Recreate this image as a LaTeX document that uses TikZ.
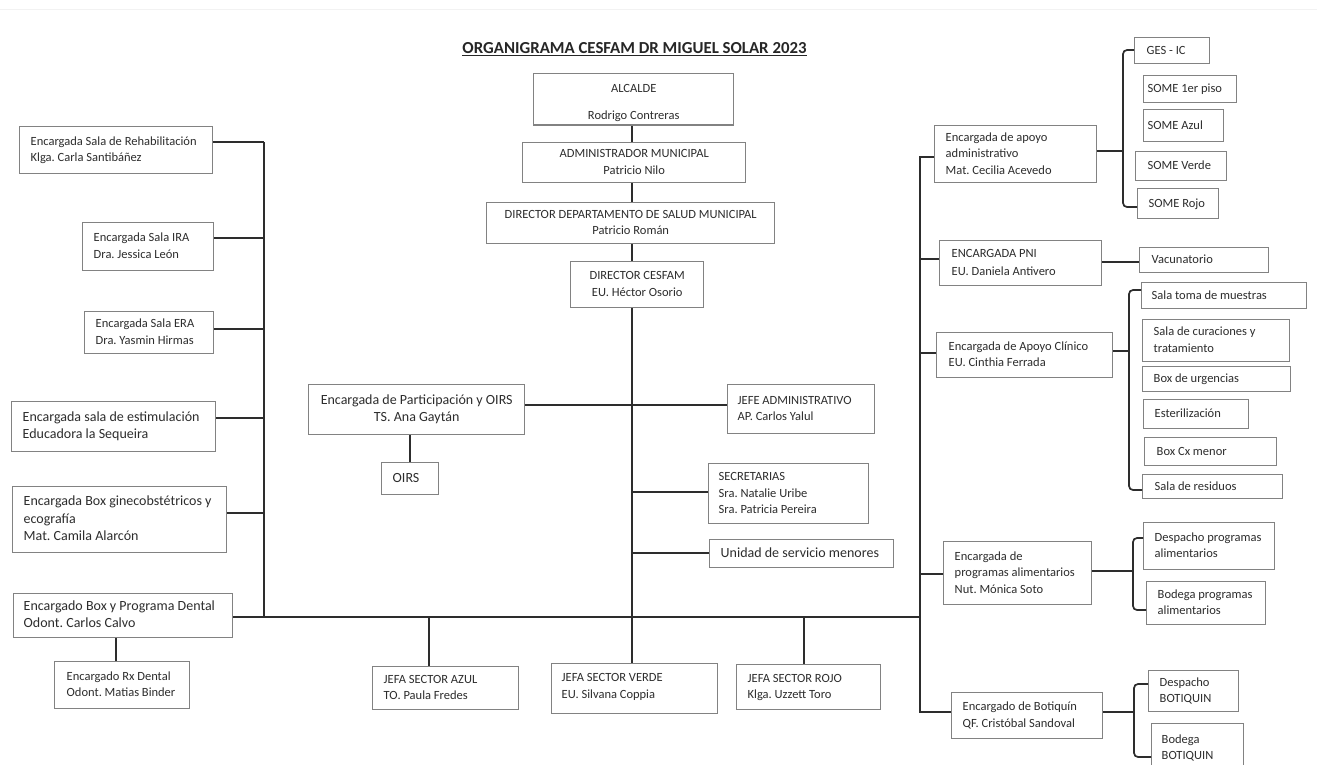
\documentclass[tikz,border=0pt]{standalone}
\usepackage{fontspec}
\setmainfont{Carlito}
\usetikzlibrary{calc}
\definecolor{boxline}{RGB}{130,130,130}
\definecolor{connline}{RGB}{45,45,45}
\definecolor{txt}{RGB}{45,45,45}
\newcommand{\orgbox}[9]{% name, style, align (l/c), pad, x1, y1, x2, y2, text
  \pgfmathsetmacro{\orgW}{#7-#5}%
  \pgfmathsetmacro{\orgH}{#8-#6}%
  \pgfmathsetmacro{\orgT}{#7-#5-2*#4}%
  \node[#2, inner xsep=#4pt, anchor=north west, minimum width=\orgW pt, minimum height=\orgH pt] (#1) at (#5,#6)
    {\makebox[\orgT pt][#3]{\begin{tabular}{@{}#3@{}}#9\end{tabular}}};}
\tikzset{
  obox/.style={draw=boxline, line width=1.4pt, fill=white, inner ysep=1pt, text=txt, font=\fontsize{12.5}{16.5}\selectfont},
  obig/.style={obox, font=\fontsize{14}{17.5}\selectfont},
  conn/.style={draw=connline, line width=1.7pt},
}
\begin{document}
\frenchspacing
\begin{tikzpicture}[x=1pt,y=-1pt]
\fill[white] (0,0) rectangle (1317,764);
\useasboundingbox (0,0) rectangle (1317,764);
\draw[black!5, line width=1pt] (0,9) -- (1317,9);

\node[anchor=base, text=black!85, font=\fontsize{16.8}{20}\selectfont\bfseries] (title) at (634.5,53.5) {\underline{ORGANIGRAMA CESFAM DR MIGUEL SOLAR 2023}};

% centre column
\orgbox{alc}{obox}{c}{11}{533}{73}{733}{124}{\rule{0pt}{18pt}ALCALDE\\[10pt]Rodrigo Contreras}
\orgbox{adm}{obox}{c}{11}{522}{142}{745}{182}{ADMINISTRADOR MUNICIPAL\\Patricio Nilo}
\orgbox{dsm}{obox}{c}{11}{486}{202}{774}{243}{DIRECTOR DEPARTAMENTO DE SALUD MUNICIPAL\\Patricio Román}
\orgbox{dcf}{obox}{c}{11}{570}{261}{703}{307}{DIRECTOR CESFAM\\EU. Héctor Osorio}
\orgbox{part}{obig}{c}{11}{308}{384}{524}{434}{Encargada de Participación y OIRS\\TS. Ana Gaytán}
\orgbox{oirs}{obig}{l}{11}{381}{462}{438}{494}{OIRS}
\orgbox{jadm}{obox}{l}{10}{727}{384}{874}{433}{JEFE ADMINISTRATIVO\\AP. Carlos Yalul}
\orgbox{sec}{obox}{l}{10}{708}{463}{868}{523}{SECRETARIAS\\Sra. Natalie Uribe\\Sra. Patricia Pereira}
\orgbox{usm}{obig}{l}{11}{709}{539}{893}{567}{Unidad de servicio menores}
\orgbox{azul}{obox}{l}{11}{372}{666}{518}{709}{JEFA SECTOR AZUL\\TO. Paula Fredes}
\orgbox{verde}{obox}{l}{10}{551}{663}{717}{713}{JEFA SECTOR VERDE\\EU. Silvana Coppia\\[4pt]}
\orgbox{rojo}{obox}{l}{11}{736}{664}{880}{709}{JEFA SECTOR ROJO\\Klga. Uzzett Toro}

% left column
\orgbox{rehab}{obox}{l}{11}{19}{126}{212}{173}{Encargada Sala de Rehabilitación\\Klga. Carla Santibáñez}
\orgbox{ira}{obox}{l}{11}{82}{222}{213}{270}{Encargada Sala IRA\\Dra. Jessica León}
\orgbox{era}{obox}{l}{11}{84}{311}{213}{353}{Encargada Sala ERA\\Dra. Yasmin Hirmas}
\orgbox{estim}{obig}{l}{11}{11}{401}{215}{451}{Encargada sala de estimulación\\Educadora la Sequeira}
\orgbox{gine}{obig}{l}{11}{12}{486}{226}{552}{Encargada Box ginecobstétricos y\\ecografía\\Mat. Camila Alarcón}
\orgbox{dent}{obig}{l}{10}{13}{593}{232}{637}{Encargado Box y Programa Dental\\Odont. Carlos Calvo}
\orgbox{rx}{obox}{l}{12}{54}{661}{189}{708}{Encargado Rx Dental\\Odont. Matias Binder}

% right column
\orgbox{aad}{obox}{l}{11}{934}{125}{1096}{182}{Encargada de apoyo\\administrativo\\Mat. Cecilia Acevedo}
\orgbox{ges}{obox}{l}{12}{1134}{37}{1209}{63}{GES - IC}
\orgbox{sa}{obox}{l}{4}{1143}{75}{1236}{102}{SOME 1er piso}
\orgbox{saz}{obox}{l}{4}{1143}{109}{1223}{141}{SOME Azul}
\orgbox{sve}{obox}{l}{12}{1135}{151}{1226}{180}{SOME Verde}
\orgbox{sro}{obox}{l}{11}{1137}{188}{1218}{218}{SOME Rojo}
\orgbox{pni}{obox}{l}{12}{939}{240}{1101}{285}{ENCARGADA PNI\\[2pt]EU. Daniela Antivero}
\orgbox{vac}{obox}{l}{12}{1139}{247}{1268}{272}{Vacunatorio}
\orgbox{acl}{obox}{l}{12}{936}{332}{1112}{377}{Encargada de Apoyo Clínico\\EU. Cinthia Ferrada}
\orgbox{stm}{obox}{l}{10}{1141}{282}{1306}{308}{Sala toma de muestras}
\orgbox{scur}{obox}{l}{11}{1142}{319}{1289}{361}{Sala de curaciones y\\tratamiento}
\orgbox{burg}{obox}{l}{11}{1142}{366}{1290}{391}{Box de urgencias}
\orgbox{est}{obox}{l}{11}{1143}{399}{1248}{428}{Esterilización}
\orgbox{bcx}{obox}{l}{12}{1144}{437}{1276}{465}{Box Cx menor}
\orgbox{sres}{obox}{l}{12}{1142}{474}{1282}{498}{Sala de residuos}
\orgbox{alim}{obox}{l}{11}{943}{541}{1091}{604}{Encargada de\\programas alimentarios\\Nut. Mónica Soto}
\orgbox{dpa}{obox}{l}{11}{1143}{522}{1274}{569}{Despacho programas\\alimentarios}
\orgbox{bpa}{obox}{l}{11}{1146}{581}{1265}{624}{Bodega programas\\alimentarios}
\orgbox{bot}{obox}{l}{11}{951}{692}{1102}{738}{Encargado de Botiquín\\QF. Cristóbal Sandoval}
\orgbox{dbot}{obox}{l}{11}{1148}{670}{1238}{711}{Despacho\\BOTIQUIN}
\orgbox{bbot}{obox}{l}{10}{1151}{723}{1243}{772}{Bodega\\BOTIQUIN}

% junction coordinates
\coordinate (jRehab) at (264,142);
\coordinate (jIra) at (264,238);
\coordinate (jEra) at (264,329);
\coordinate (jEst) at (264,418);
\coordinate (jGin) at (264,513);
\coordinate (jDent) at (264,617);
\coordinate (jR) at (920,617);
\coordinate (cx) at (632,0);
\coordinate (jPart) at (632,405);
\coordinate (jSec) at (632,492);
\coordinate (jUsm) at (632,553);
\coordinate (xO) at (410,0);
\coordinate (xRx) at (116,0);
\coordinate (xAz) at (429,617);
\coordinate (xRo) at (804,617);
\coordinate (rTop) at (920,157);
\coordinate (rBot) at (920,712);
\coordinate (jPni) at (920,259);
\coordinate (jAcl) at (920,353);
\coordinate (jAli) at (920,574);
\coordinate (jVac) at (1101,262);
\coordinate (b1) at (1123,151);
\coordinate (b1t) at (1123,50);
\coordinate (b1b) at (1123,207);
\coordinate (b2) at (1129,351);
\coordinate (b2t) at (1129,290);
\coordinate (b2b) at (1129,490);
\coordinate (b3) at (1133,571);
\coordinate (b3t) at (1133,538);
\coordinate (b3b) at (1133,610);
\coordinate (b4) at (1134,712);
\coordinate (b4t) at (1134,684);
\coordinate (b4b) at (1134,757);

% left trunk
\draw[conn] (jRehab) -- (jDent);
\draw[conn] (rehab.east |- jRehab) -- (jRehab);
\draw[conn] (ira.east |- jIra) -- (jIra);
\draw[conn] (era.east |- jEra) -- (jEra);
\draw[conn] (estim.east |- jEst) -- (jEst);
\draw[conn] (gine.east |- jGin) -- (jGin);
\draw[conn] (dent.east |- jDent) -- (jR);
\draw[conn] (xRx |- dent.south) -- (xRx |- rx.north);

% centre
\draw[conn] (cx |- alc.south) -- (cx |- adm.north);
\draw[conn] (cx |- adm.south) -- (cx |- dsm.north);
\draw[conn] (cx |- dsm.south) -- (cx |- dcf.north);
\draw[conn] (cx |- dcf.south) -- (cx |- verde.north);
\draw[conn] (part.east |- jPart) -- (jadm.west |- jPart);
\draw[conn] (xO |- part.south) -- (xO |- oirs.north);
\draw[conn] (jSec) -- (sec.west |- jSec);
\draw[conn] (jUsm) -- (usm.west |- jUsm);
\draw[conn] (xAz) -- (xAz |- azul.north);
\draw[conn] (xRo) -- (xRo |- rojo.north);

% right trunk
\draw[conn] (aad.west |- rTop) -- (rTop) -- (rBot) -- (bot.west |- rBot);
\draw[conn] (jPni) -- (pni.west |- jPni);
\draw[conn] (jAcl) -- (acl.west |- jAcl);
\draw[conn] (jAli) -- (alim.west |- jAli);
\draw[conn] (pni.east |- jVac) -- (vac.west |- jVac);

% brackets
\draw[conn] (aad.east |- b1) -- (b1);
\draw[conn, rounded corners=4pt] (ges.west |- b1t) -- (b1t) -- (b1b) -- (sro.west |- b1b);
\draw[conn] (acl.east |- b2) -- (b2);
\draw[conn, rounded corners=4pt] (stm.west |- b2t) -- (b2t) -- (b2b) -- (sres.west |- b2b);
\draw[conn] (alim.east |- b3) -- (b3);
\draw[conn, rounded corners=4pt] (dpa.west |- b3t) -- (b3t) -- (b3b) -- (bpa.west |- b3b);
\draw[conn] (bot.east |- b4) -- (b4);
\draw[conn, rounded corners=4pt] (dbot.west |- b4t) -- (b4t) -- (b4b) -- (bbot.west |- b4b);
\end{tikzpicture}
\end{document}
